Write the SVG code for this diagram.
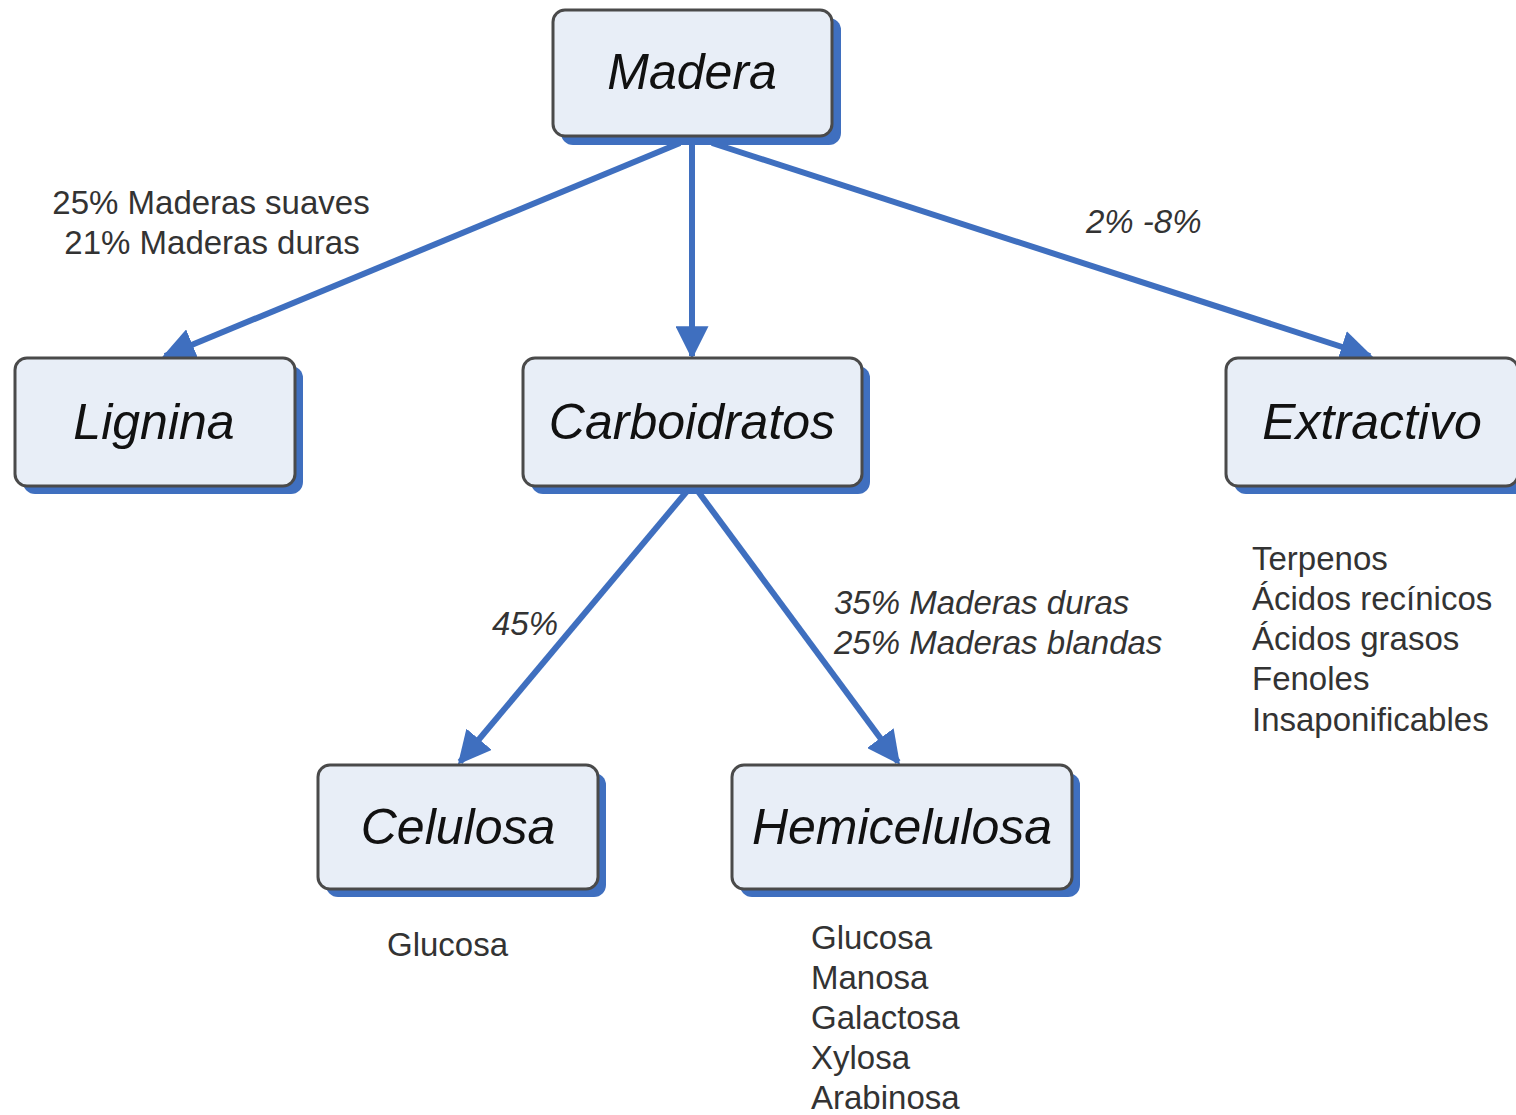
<svg xmlns="http://www.w3.org/2000/svg" width="1516" height="1115" viewBox="0 0 1516 1115">
<style>
.shadow{fill:#3f6fbf}
.box{fill:#e8eef7;stroke:#4a4a4a;stroke-width:3}
.lbl{font-family:"Liberation Sans",Arial,sans-serif;font-size:50px;font-style:italic;fill:#111;text-anchor:middle}
.note{font-family:"Liberation Sans",Arial,sans-serif;font-size:33px;fill:#333}
.it{font-style:italic}
.conn{stroke:#3f6fbf;stroke-width:6;fill:none;marker-end:url(#ah)}
</style>
<defs>
<marker id="ah" viewBox="0 0 10 10" refX="9" refY="5" markerWidth="5.5" markerHeight="5.5" orient="auto" markerUnits="strokeWidth">
<path d="M0,0 L10,5 L0,10 z" fill="#3f6fbf"/>
</marker>
</defs>
<rect width="1516" height="1115" fill="#ffffff"/>
<g id="connectors">
<line class="conn" x1="680" y1="143" x2="165" y2="356"/>
<line class="conn" x1="692" y1="143" x2="692" y2="356"/>
<line class="conn" x1="712" y1="143" x2="1370" y2="356"/>
<line class="conn" x1="688" y1="490" x2="460" y2="762"/>
<line class="conn" x1="697" y1="490" x2="898" y2="762"/>
</g>
<g id="madera">
<rect class="shadow" x="561" y="18" width="280" height="127" rx="12"/>
<rect class="box" x="553" y="10" width="279" height="126" rx="12"/>
<text class="lbl" x="692" y="89">Madera</text>
</g>
<g id="lignina">
<rect class="shadow" x="23" y="366" width="280" height="128" rx="12"/>
<rect class="box" x="15" y="358" width="280" height="128" rx="12"/>
<text class="lbl" x="154" y="439">Lignina</text>
</g>
<g id="carboidratos">
<rect class="shadow" x="531" y="366" width="339" height="128" rx="12"/>
<rect class="box" x="523" y="358" width="339" height="128" rx="12"/>
<text class="lbl" x="692" y="439">Carboidratos</text>
</g>
<g id="extractivo">
<rect class="shadow" x="1234" y="366" width="300" height="128" rx="12"/>
<rect class="box" x="1226" y="358" width="292" height="128" rx="12"/>
<text class="lbl" x="1372" y="439">Extractivo</text>
</g>
<g id="celulosa">
<rect class="shadow" x="326" y="773" width="280" height="124" rx="12"/>
<rect class="box" x="318" y="765" width="280" height="124" rx="12"/>
<text class="lbl" x="458" y="844">Celulosa</text>
</g>
<g id="hemicelulosa">
<rect class="shadow" x="740" y="773" width="340" height="124" rx="12"/>
<rect class="box" x="732" y="765" width="340" height="124" rx="12"/>
<text class="lbl" x="902" y="844">Hemicelulosa</text>
</g>
<g id="notes">
<text class="note" x="211" y="214" text-anchor="middle">25% Maderas suaves</text>
<text class="note" x="212" y="254" text-anchor="middle">21% Maderas duras</text>
<text class="note it" x="1086" y="233">2% -8%</text>
<text class="note it" x="492" y="635">45%</text>
<text class="note it" x="834" y="614">35% Maderas duras</text>
<text class="note it" x="834" y="654">25% Maderas blandas</text>
<text class="note" x="1252" y="570">Terpenos</text>
<text class="note" x="1252" y="610">Ácidos recínicos</text>
<text class="note" x="1252" y="650">Ácidos grasos</text>
<text class="note" x="1252" y="690">Fenoles</text>
<text class="note" x="1252" y="731">Insaponificables</text>
<text class="note" x="387" y="956">Glucosa</text>
<text class="note" x="811" y="949">Glucosa</text>
<text class="note" x="811" y="989">Manosa</text>
<text class="note" x="811" y="1029">Galactosa</text>
<text class="note" x="811" y="1069">Xylosa</text>
<text class="note" x="811" y="1109">Arabinosa</text>
</g>
</svg>
